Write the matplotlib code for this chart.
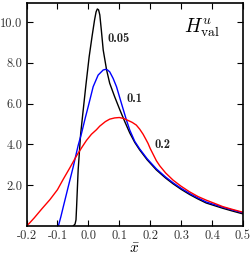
import matplotlib
matplotlib.use("Agg")
import matplotlib.pyplot as plt

plt.rcParams['font.family'] = 'cmr10'
plt.rcParams['mathtext.fontset'] = 'cm'
plt.rcParams['axes.unicode_minus'] = False

# Curva xi = 0.05 (negra)
x_005 = [-0.049, -0.043, -0.040, -0.038, -0.033, -0.025, -0.018, -0.008, 0.0026, 0.012,
         0.02, 0.025, 0.029, 0.033, 0.037, 0.042, 0.048, 0.059, 0.069, 0.085,
         0.102, 0.118, 0.134, 0.15, 0.166, 0.19, 0.22, 0.25, 0.274, 0.3,
         0.327, 0.354, 0.381, 0.41, 0.435, 0.465, 0.494, 0.5]
y_005 = [0.0, 0.1, 0.3, 0.95, 2.75, 4.5, 5.5, 6.9, 8.3, 9.3,
         10.1, 10.5, 10.64, 10.6, 10.35, 9.6, 8.63, 7.65, 7.0, 6.34,
         5.69, 5.11, 4.56, 4.1, 3.73, 3.25, 2.75, 2.35, 2.07, 1.8,
         1.55, 1.33, 1.13, 0.99, 0.87, 0.74, 0.62, 0.6]

# Curva xi = 0.1 (azul)
x_01 = [-0.097, -0.089, -0.081, -0.065, -0.049, -0.033, -0.022, -0.01, -0.0006, 0.0155,
        0.0316, 0.048, 0.056, 0.062, 0.069, 0.080, 0.091, 0.107, 0.123, 0.134,
        0.15, 0.166, 0.19, 0.22, 0.25, 0.274, 0.3, 0.327, 0.354, 0.381,
        0.41, 0.435, 0.465, 0.494, 0.5]
y_01 = [0.0, 0.45, 0.95, 1.93, 2.9, 3.95, 4.55, 5.3, 5.85, 6.83,
        7.40, 7.65, 7.68, 7.65, 7.56, 7.24, 6.83, 6.01, 5.2, 4.7,
        4.15, 3.78, 3.3, 2.8, 2.4, 2.12, 1.85, 1.6, 1.38, 1.18,
        1.04, 0.92, 0.79, 0.67, 0.65]

# Curva xi = 0.2 (roja)
x_02 = [-0.2, -0.19, -0.175, -0.15, -0.124, -0.1, -0.081, -0.06, -0.038, -0.02,
        -0.006, 0.01, 0.026, 0.037, 0.055, 0.069, 0.085, 0.1, 0.115, 0.128,
        0.142, 0.155, 0.166, 0.177, 0.186, 0.193, 0.2, 0.21, 0.22, 0.231,
        0.25, 0.274, 0.3, 0.327, 0.354, 0.381, 0.41, 0.435, 0.465, 0.494, 0.5]
y_02 = [0.0, 0.15, 0.4, 0.85, 1.3, 1.78, 2.3, 2.85, 3.45, 3.88,
        4.2, 4.5, 4.72, 4.9, 5.12, 5.24, 5.3, 5.32, 5.27, 5.18,
        5.08, 4.95, 4.75, 4.5, 4.25, 4.05, 3.8, 3.5, 3.2, 2.95,
        2.6, 2.25, 1.95, 1.68, 1.45, 1.27, 1.1, 0.95, 0.82, 0.7, 0.68]

xticks = [-0.2, -0.1, 0.0, 0.1, 0.2, 0.3, 0.4, 0.5]
xtick_labels = ["-0.2", "-0.1", "0.0", "0.1", "0.2", "0.3", "0.4", "0.5"]
yticks = [2, 4, 6, 8, 10]
ytick_labels = ["2.0", "4.0", "6.0", "8.0", "10.0"]

fig = plt.figure(figsize=(2.51, 2.56), dpi=100)
ax = fig.add_axes([0.1056, 0.117, 0.8625, 0.871])

ax.plot(x_005, y_005, color="black", lw=1.0)
ax.plot(x_01, y_01, color="blue", lw=1.0)
ax.plot(x_02, y_02, color="red", lw=1.0)

ax.set_xlim(-0.2, 0.5)
ax.set_ylim(0, 10.93)
ax.set_xticks(xticks)
ax.set_xticklabels(xtick_labels)
ax.set_yticks(yticks)
ax.set_yticklabels(ytick_labels)
ax.tick_params(direction="in", top=True, right=True, length=4, width=0.8,
               labelsize=9, labelcolor="#333333", pad=3)
for s in ax.spines.values():
    s.set_linewidth(1.2)

ax.set_xlabel(r"$\bar{x}$", fontsize=11, labelpad=0)

# etiquetas de las curvas
ax.text(0.063, 9.0, "0.05", fontfamily="cmb10", fontsize=9, color="#222222")
ax.text(0.124, 6.08, "0.1", fontfamily="cmb10", fontsize=9, color="#222222")
ax.text(0.2145, 3.82, "0.2", fontfamily="cmb10", fontsize=9, color="#222222")
ax.text(0.894, 0.94, r"$H^u_{\rm val}$", transform=ax.transAxes, fontsize=14,
        ha="right", va="top")

fig.savefig("out.png", dpi=100)
